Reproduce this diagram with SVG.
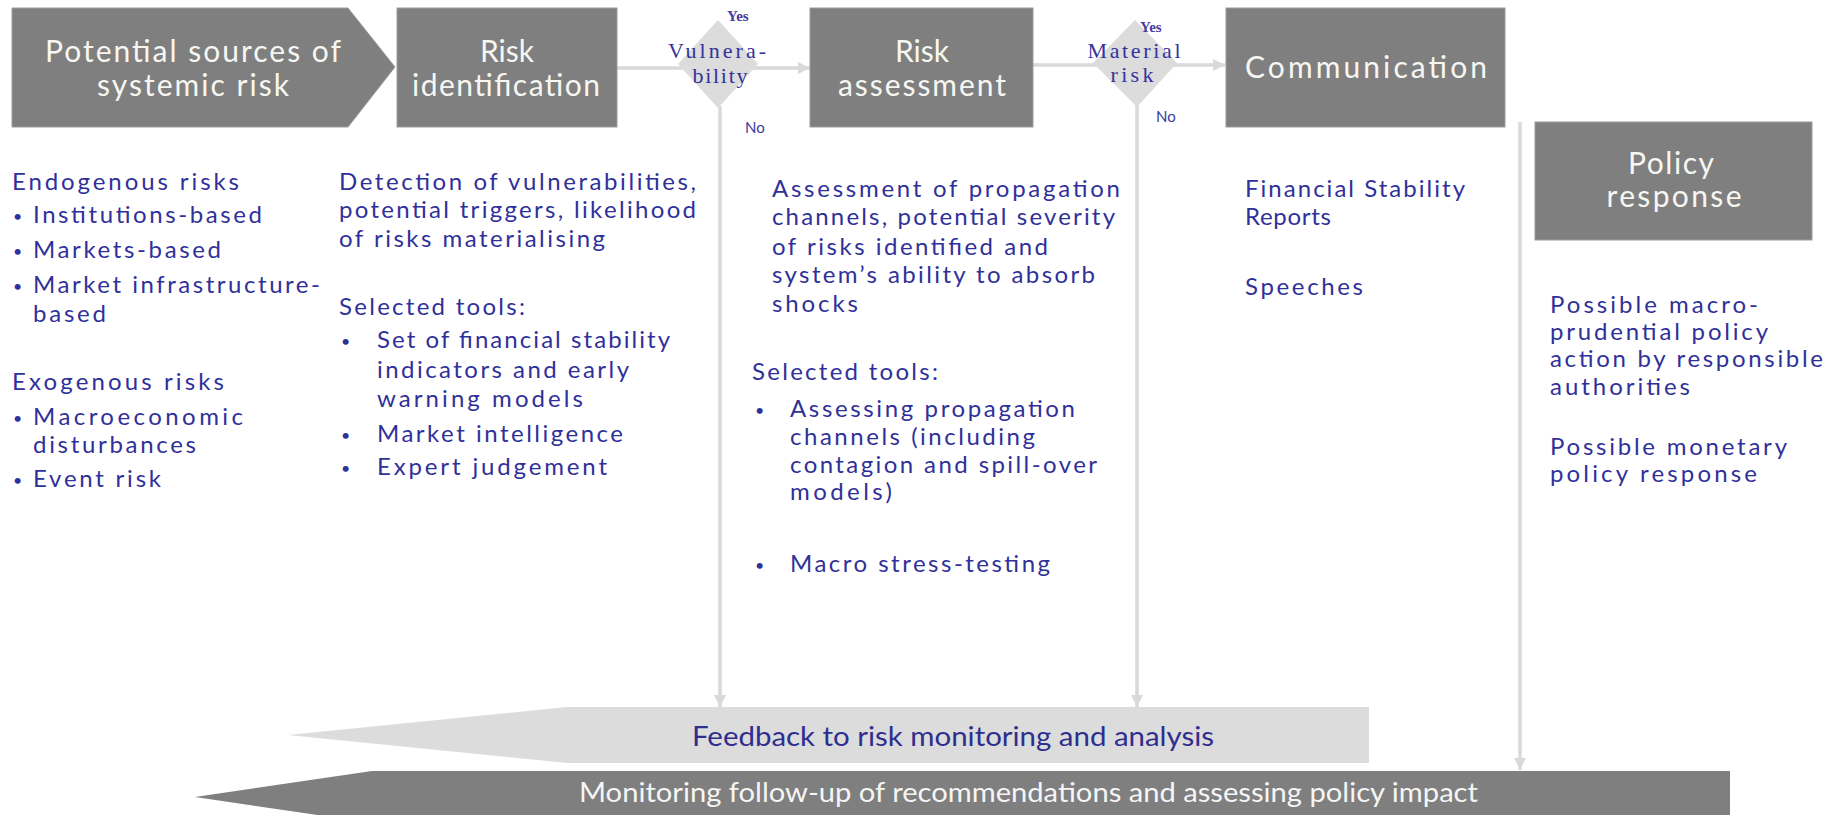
<svg xmlns="http://www.w3.org/2000/svg" width="1831" height="815" viewBox="0 0 1831 815">
<style>
.box{fill:#7f7f7f;stroke:#9c9c9c;stroke-width:1}
.dia{fill:#dcdcdc}
.bt{font-family:Lato,"Open Sans",sans-serif;font-size:30px;fill:#f7f7f2;text-anchor:middle}
.tx{font-family:Lato,"Open Sans",sans-serif;font-size:24px;fill:#30309a}
.bul{font-family:Lato,"Open Sans",sans-serif;font-size:16px;fill:#30309a}
.dt{font-family:"Liberation Serif",serif;font-size:22px;fill:#33339c;text-anchor:middle}
.yn{font-family:"Liberation Serif",serif;font-size:15px;font-weight:bold;fill:#4a3aa0}
.no{font-family:Lato,sans-serif;font-size:15px;fill:#3a3aa0}
.con{stroke:#d9d9d9;stroke-width:3.5;fill:none}
.ft{font-family:Lato,"Open Sans",sans-serif;font-size:26px;fill:#2e2e8f}
.mt{font-family:Lato,"Open Sans",sans-serif;font-size:26px;fill:#f5f5f5}
</style>
<defs>
<marker id="ah" viewBox="0 0 10 10" refX="10" refY="5" markerWidth="13" markerHeight="12" markerUnits="userSpaceOnUse" orient="auto">
<path d="M0,0 L10,5 L0,10 z" fill="#d9d9d9"/>
</marker>
</defs>
<rect width="1831" height="815" fill="#ffffff"/>

<g id="connectors">
<path class="con" d="M617,68 H810" marker-end="url(#ah)"/>
<path class="con" d="M1033,65 H1225" marker-end="url(#ah)"/>
<path class="con" d="M720,106 V707" marker-end="url(#ah)"/>
<path class="con" d="M1137,105 V707" marker-end="url(#ah)"/>
<path class="con" d="M1520,122 V770" marker-end="url(#ah)"/>
</g>

<g id="sources">
<polygon class="box" points="12,8 348,8 395,67 348,127 12,127"/>
<text class="bt" x="193" y="62" textLength="296">Potential sources of</text>
<text class="bt" x="193" y="96" textLength="192">systemic risk</text>
</g>

<g id="risk-identification">
<rect class="box" x="397" y="8" width="220" height="119"/>
<text class="bt" x="507" y="62">Risk</text>
<text class="bt" x="506" y="96" textLength="188">identification</text>
</g>

<g id="vulnerability">
<polygon class="dia" points="718,20 758,64 718,108 678,64"/>
<text class="yn" x="727" y="21">Yes</text>
<text class="dt" x="717" y="58" textLength="98">Vulnera-</text>
<text class="dt" x="720" y="83" textLength="55">bility</text>
<text class="no" x="745" y="133">No</text>
</g>

<g id="risk-assessment">
<rect class="box" x="810" y="8" width="223" height="119"/>
<text class="bt" x="922" y="62">Risk</text>
<text class="bt" x="922" y="96" textLength="168">assessment</text>
</g>

<g id="material-risk">
<polygon class="dia" points="1135,20 1177,63 1137,107 1093,63"/>
<text class="yn" x="1140" y="32">Yes</text>
<text class="dt" x="1134" y="58" textLength="93">Material</text>
<text class="dt" x="1132" y="82" textLength="43">risk</text>
<text class="no" x="1156" y="122">No</text>
</g>

<g id="communication">
<rect class="box" x="1226" y="8" width="279" height="119"/>
<text class="bt" x="1366" y="78" textLength="242">Communication</text>
</g>

<g id="policy-response">
<rect class="box" x="1535" y="122" width="277" height="118"/>
<text class="bt" x="1671" y="174" textLength="86">Policy</text>
<text class="bt" x="1674" y="207" textLength="135">response</text>
</g>

<g id="sources-text">
<text class="tx" x="12" y="190" textLength="227">Endogenous risks</text>
<text class="bul" x="13" y="222">•</text>
<text class="tx" x="33" y="223" textLength="229">Institutions-based</text>
<text class="bul" x="13" y="257">•</text>
<text class="tx" x="33" y="258" textLength="188">Markets-based</text>
<text class="bul" x="13" y="292">•</text>
<text class="tx" x="33" y="293" textLength="287">Market infrastructure-</text>
<text class="tx" x="33" y="322" textLength="73">based</text>
<text class="tx" x="12" y="390" textLength="212">Exogenous risks</text>
<text class="bul" x="13" y="424">•</text>
<text class="tx" x="33" y="425" textLength="210">Macroeconomic</text>
<text class="tx" x="33" y="453" textLength="163">disturbances</text>
<text class="bul" x="13" y="486">•</text>
<text class="tx" x="33" y="487" textLength="128">Event risk</text>
</g>

<g id="identification-text">
<text class="tx" x="339" y="190" textLength="357">Detection of vulnerabilities,</text>
<text class="tx" x="339" y="218" textLength="357">potential triggers, likelihood</text>
<text class="tx" x="339" y="247" textLength="266">of risks materialising</text>
<text class="tx" x="339" y="315" textLength="186">Selected tools:</text>
<text class="bul" x="341" y="347">•</text>
<text class="tx" x="377" y="348" textLength="293">Set of financial stability</text>
<text class="tx" x="377" y="378" textLength="252">indicators and early</text>
<text class="tx" x="377" y="407" textLength="206">warning models</text>
<text class="bul" x="341" y="441">•</text>
<text class="tx" x="377" y="442" textLength="246">Market intelligence</text>
<text class="bul" x="341" y="474">•</text>
<text class="tx" x="377" y="475" textLength="230">Expert judgement</text>
</g>

<g id="assessment-text">
<text class="tx" x="772" y="197" textLength="348">Assessment of propagation</text>
<text class="tx" x="772" y="225" textLength="343">channels, potential severity</text>
<text class="tx" x="772" y="255" textLength="276">of risks identified and</text>
<text class="tx" x="772" y="283" textLength="323">system’s ability to absorb</text>
<text class="tx" x="772" y="312" textLength="86">shocks</text>
<text class="tx" x="752" y="380" textLength="186">Selected tools:</text>
<text class="bul" x="755" y="416">•</text>
<text class="tx" x="790" y="417" textLength="285">Assessing propagation</text>
<text class="tx" x="790" y="445" textLength="245">channels (including</text>
<text class="tx" x="790" y="473" textLength="307">contagion and spill-over</text>
<text class="tx" x="790" y="500" textLength="102">models)</text>
<text class="bul" x="755" y="571">•</text>
<text class="tx" x="790" y="572" textLength="260">Macro stress-testing</text>
</g>

<g id="communication-text">
<text class="tx" x="1245" y="197" textLength="220">Financial Stability</text>
<text class="tx" x="1245" y="225" textLength="86">Reports</text>
<text class="tx" x="1245" y="295" textLength="118">Speeches</text>
</g>

<g id="policy-text">
<text class="tx" x="1550" y="313" textLength="208">Possible macro-</text>
<text class="tx" x="1550" y="340" textLength="218">prudential policy</text>
<text class="tx" x="1550" y="367" textLength="273">action by responsible</text>
<text class="tx" x="1550" y="395" textLength="140">authorities</text>
<text class="tx" x="1550" y="455" textLength="237">Possible monetary</text>
<text class="tx" x="1550" y="482" textLength="207">policy response</text>
</g>

<g id="feedback">
<polygon points="288,735 567,707 1369,707 1369,763 567,763" fill="#dcdcdc"/>
<text class="ft" x="692" y="746" textLength="522" lengthAdjust="spacingAndGlyphs">Feedback to risk monitoring and analysis</text>
</g>

<g id="monitoring">
<polygon points="195,797 372,771 1730,771 1730,823 372,823" fill="#7f7f7f"/>
<text class="mt" x="579" y="802" textLength="899" lengthAdjust="spacingAndGlyphs">Monitoring follow-up of recommendations and assessing policy impact</text>
</g>
</svg>
